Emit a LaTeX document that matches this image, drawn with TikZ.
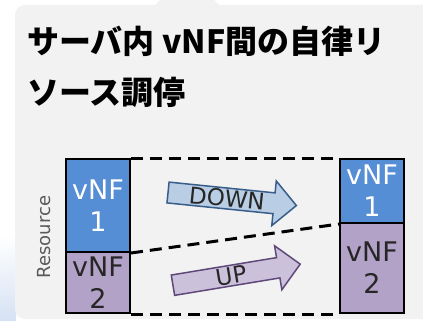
\documentclass[tikz,border=0pt]{standalone}
\usepackage{fontspec}
\setmainfont{Noto Sans CJK JP}
\newfontfamily\jpfont{Noto Sans CJK JP}
\newfontfamily\latinfont{DejaVu Sans}
\usetikzlibrary{shapes.arrows}
\definecolor{panelgray}{HTML}{F2F2F2}
\definecolor{vnfblue}{HTML}{558ED5}
\definecolor{vnfpurple}{HTML}{B3A2C7}
\definecolor{arrblue}{HTML}{B9CDE5}
\definecolor{arrblueline}{HTML}{385D8A}
\definecolor{arrpurple}{HTML}{CCC1DA}
\definecolor{arrpurpleline}{HTML}{5F497A}
\definecolor{labelgray}{HTML}{595959}
\definecolor{textdark}{HTML}{262626}
\definecolor{edgeblue}{HTML}{D5E2F3}
\tikzset{
  vnfbox/.style={draw=black, line width=2pt, minimum width=64pt, inner sep=0pt, align=center,
    font=\latinfont\fontsize{27}{32}\selectfont},
  guide/.style={draw=black, line width=3pt, dash pattern=on 12pt off 7pt},
  resarrow/.style={single arrow, single arrow head extend=12pt, single arrow tip angle=90,
    line width=1.5pt, inner xsep=2pt, inner ysep=1pt, minimum height=129pt,
    font=\latinfont\fontsize{23}{24}\selectfont, text=textdark},
  titletext/.style={anchor=base west, inner sep=0pt, font=\jpfont\bfseries\fontsize{32}{36}\selectfont}
}
\begin{document}
\begin{tikzpicture}[x=1pt, y=-1pt]
\useasboundingbox (0,0) rectangle (423,321);
\fill[white] (0,0) rectangle (423,321);
\shade[top color=white, bottom color=edgeblue] (0,235) rectangle (16,321);
\fill[panelgray, rounded corners=10pt] (15,5) rectangle (445,319);
\fill[panelgray] (155,5.5) -- (160,0) -- (214,0) -- (220,5.5) -- cycle;

\node[titletext] (t1) at (27,54) {サーバ内 vNF間の自律リ};
\node[titletext] (t2) at (27,104) {ソース調停};

\node[vnfbox, fill=vnfblue, text=white, minimum height=93pt] (lv1) at (98,205.5) {vNF\\1};
\node[vnfbox, fill=vnfpurple, text=textdark, minimum height=61pt] (lv2) at (98,282.5) {vNF\\2};
\node[vnfbox, fill=vnfblue, text=white, minimum height=64pt] (rv1) at (372,191) {vNF\\1};
\node[vnfbox, fill=vnfpurple, text=textdark, minimum height=90pt] (rv2) at (372,268) {vNF\\2};

\draw[guide] (lv1.north east) -- (rv1.north west);
\draw[guide] (lv1.south east) -- (rv1.south west);
\draw[guide] (lv2.south east) -- (rv2.south west);

\node[resarrow, fill=arrblue, draw=arrblueline, rotate=-5.8] (down) at (227,198.5) {DOWN};
\node[resarrow, fill=arrpurple, draw=arrpurpleline, rotate=9.4] (up) at (231.5,275.5) {UP};

\node[rotate=90, text=labelgray, font=\latinfont\fontsize{18}{20}\selectfont] (res) at (44,237) {Resource};
\end{tikzpicture}
\end{document}
